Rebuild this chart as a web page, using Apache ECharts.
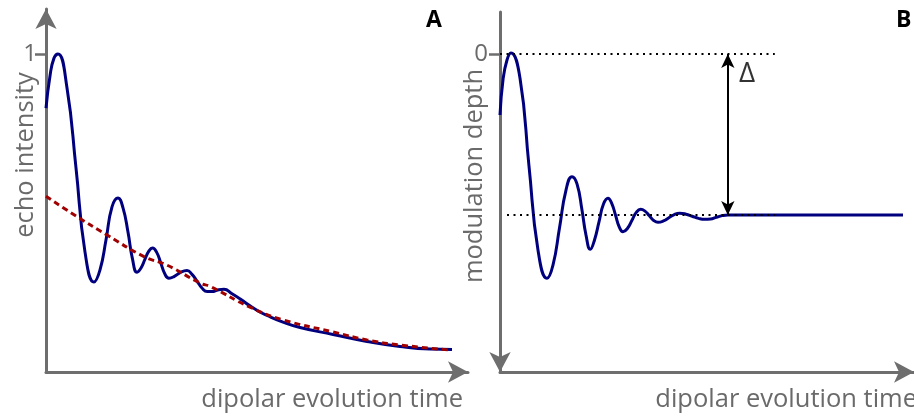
<!DOCTYPE html>
<html>
<head>
<meta charset="utf-8">
<script src="https://cdn.jsdelivr.net/npm/echarts@6/dist/echarts.min.js"></script>
<style>
  html, body { margin: 0; padding: 0; background: #fff; }
  #chart { width: 914px; height: 419px; }
</style>
</head>
<body>
<div id="chart"></div>
<script>
// ---- Panel A: echo intensity vs dipolar evolution time ----
const timeA = [0.000, 0.097, 0.194, 0.291, 0.510, 0.728, 0.947, 1.165, 1.311, 1.456, 1.602, 1.748, 1.869, 1.990, 2.100, 2.209, 2.306, 2.403, 2.500, 2.585, 2.684, 2.786, 2.886, 2.985, 3.107, 3.277, 3.422, 3.544, 3.665, 3.786, 3.915, 4.029, 4.175, 4.320, 4.515, 4.733, 4.951, 5.146, 5.364, 5.752, 6.165, 6.966, 7.791, 8.592, 9.320, 9.854];
const echoA = [0.830, 0.931, 0.987, 1.000, 0.893, 0.642, 0.377, 0.283, 0.321, 0.415, 0.519, 0.547, 0.516, 0.440, 0.355, 0.314, 0.327, 0.355, 0.381, 0.390, 0.377, 0.343, 0.308, 0.295, 0.300, 0.314, 0.319, 0.307, 0.286, 0.264, 0.253, 0.253, 0.258, 0.260, 0.246, 0.228, 0.208, 0.192, 0.178, 0.157, 0.140, 0.118, 0.096, 0.080, 0.072, 0.071];
const timeFit = [0, 0.760, 1.481, 2.379, 2.937, 3.738, 3.998, 4.951, 5.752, 6.966, 7.791, 8.592, 9.806];
const fitA = [0.553, 0.488, 0.431, 0.363, 0.336, 0.280, 0.268, 0.204, 0.164, 0.126, 0.101, 0.085, 0.069];
const tickA = [1];

// ---- Panel B: modulation depth (axis pointing downwards) ----
const timeB = [0.000, 0.073, 0.170, 0.267, 0.485, 0.704, 0.922, 1.141, 1.286, 1.444, 1.602, 1.748, 1.869, 1.990, 2.087, 2.192, 2.294, 2.403, 2.512, 2.621, 2.714, 2.803, 2.896, 2.985, 3.092, 3.201, 3.308, 3.415, 3.519, 3.626, 3.731, 3.835, 3.966, 4.099, 4.231, 4.362, 4.515, 4.665, 4.818, 4.968, 5.109, 5.252, 5.393, 5.534, 6.311, 9.782];
const depthB = [0.379, 0.161, 0.037, -0.006, 0.149, 0.696, 1.217, 1.393, 1.311, 1.081, 0.845, 0.762, 0.807, 0.969, 1.124, 1.213, 1.155, 1.043, 0.932, 0.896, 0.929, 1.000, 1.075, 1.104, 1.084, 1.034, 0.984, 0.965, 0.976, 1.005, 1.034, 1.045, 1.037, 1.017, 0.997, 0.989, 0.995, 1.008, 1.021, 1.027, 1.025, 1.014, 1.004, 1.000, 1.000, 1.000];
const tickB = [0];
const refLevels = [0, 1];          // dotted guide levels (0 and plateau)
const guideStart = [0, 0.17];      // start times of the guides
const guideEnd = 6.67;             // end time of the guides
const deltaTime = 5.53;            // time where the Δ arrow is drawn
const deltaLabelPos = [6.0, 0.125];

const zip = (a, b) => a.map((v, i) => [v, b[i]]);

const FONT = 'Open Sans';
const AXIS = '#6e6e6e';
const TEXT = '#6a6a6a';
const NAME_FONT = '25.5px "Open Sans"';

const axisLineStyle = { color: AXIS, width: 3 };

const chart = echarts.init(document.getElementById('chart'), null, { renderer: 'canvas' });

chart.setOption({
  animation: false,
  backgroundColor: '#fff',
  textStyle: { fontFamily: FONT },
  title: [
    { text: 'A', left: 426, top: 9, padding: 0, textStyle: { fontFamily: FONT, fontSize: 23, fontWeight: 'bold', color: '#000' } },
    { text: 'B', left: 896, top: 9, padding: 0, textStyle: { fontFamily: FONT, fontSize: 23, fontWeight: 'bold', color: '#000' } }
  ],
  grid: [
    { left: 46, top: 9, width: 422, height: 363 },
    { left: 500, top: 12, width: 414, height: 360 }
  ],
  xAxis: [
    {
      gridIndex: 0, type: 'value', min: 0, max: 10.243,
      axisLine: { show: true, onZero: false, lineStyle: axisLineStyle, symbol: ['none', 'arrow'], symbolSize: [16, 20] },
      axisTick: { show: false }, axisLabel: { show: false }, splitLine: { show: false }
    },
    {
      gridIndex: 1, type: 'value', min: 0, max: 10.049,
      axisLine: { show: true, onZero: false, lineStyle: axisLineStyle, symbol: ['none', 'arrow'], symbolSize: [16, 20] },
      axisTick: { show: false }, axisLabel: { show: false }, splitLine: { show: false }
    }
  ],
  yAxis: [
    {
      gridIndex: 0, type: 'value', min: 0, max: 1.1415,
      axisLine: { show: true, onZero: false, lineStyle: axisLineStyle, symbol: ['none', 'arrow'], symbolSize: [16, 20] },
      axisTick: { show: true, customValues: tickA, length: 11, lineStyle: { color: AXIS, width: 2.5 } },
      axisLabel: { show: true, customValues: tickA, margin: 9, fontSize: 24, color: TEXT, fontFamily: FONT },
      splitLine: { show: false }
    },
    {
      gridIndex: 1, type: 'value', min: -0.2609, max: 1.9752, inverse: true,
      axisLine: { show: true, onZero: false, lineStyle: axisLineStyle, symbol: ['arrow', 'none'], symbolSize: [16, 20] },
      axisTick: { show: true, customValues: tickB, length: 11, lineStyle: { color: AXIS, width: 2.5 } },
      axisLabel: { show: true, customValues: tickB, margin: 12, fontSize: 24, color: TEXT, fontFamily: FONT },
      splitLine: { show: false }
    }
  ],
  graphic: [
    { type: 'text', x: 26, y: 155, rotation: Math.PI / 2,
      style: { text: 'echo intensity', font: NAME_FONT, fill: TEXT, align: 'center', verticalAlign: 'middle' } },
    { type: 'text', x: 475, y: 176, rotation: Math.PI / 2,
      style: { text: 'modulation depth', font: NAME_FONT, fill: TEXT, align: 'center', verticalAlign: 'middle' } },
    { type: 'text', x: 463, y: 400,
      style: { text: 'dipolar evolution time', font: NAME_FONT, fill: TEXT, align: 'right', verticalAlign: 'middle' } },
    { type: 'text', x: 917, y: 400,
      style: { text: 'dipolar evolution time', font: NAME_FONT, fill: TEXT, align: 'right', verticalAlign: 'middle' } }
  ],
  series: [
    {
      type: 'line', xAxisIndex: 0, yAxisIndex: 0, data: zip(timeA, echoA),
      smooth: 0.5, showSymbol: false, lineStyle: { color: '#00007f', width: 3 }, z: 3
    },
    {
      type: 'line', xAxisIndex: 0, yAxisIndex: 0, data: zip(timeFit, fitA),
      smooth: 0.5, showSymbol: false, lineStyle: { color: '#a00000', width: 3, type: [6, 4] }, z: 4
    },
    {
      type: 'line', xAxisIndex: 1, yAxisIndex: 1, data: zip(timeB, depthB),
      smooth: 0.5, showSymbol: false, lineStyle: { color: '#00007f', width: 3 }, z: 3,
      markLine: {
        silent: true, symbol: 'none', label: { show: false },
        lineStyle: { color: '#000', type: [2, 4.5], width: 2 },
        data: refLevels.map((lv, i) => [{ coord: [guideStart[i], lv] }, { coord: [guideEnd, lv] }])
      }
    },
    {
      type: 'line', xAxisIndex: 1, yAxisIndex: 1, data: [], z: 5,
      markLine: {
        silent: true, symbol: ['arrow', 'arrow'], symbolSize: [10, 14], label: { show: false },
        lineStyle: { color: '#000', type: 'solid', width: 2 },
        data: [[{ coord: [deltaTime, refLevels[0]] }, { coord: [deltaTime, refLevels[1]] }]]
      }
    },
    {
      type: 'scatter', xAxisIndex: 1, yAxisIndex: 1, data: [deltaLabelPos],
      symbolSize: 1, itemStyle: { color: 'rgba(0,0,0,0)' }, silent: true,
      label: { show: true, position: 'inside', formatter: 'Δ', fontSize: 28, color: '#000', fontFamily: FONT }
    }
  ]
});
</script>
</body>
</html>
